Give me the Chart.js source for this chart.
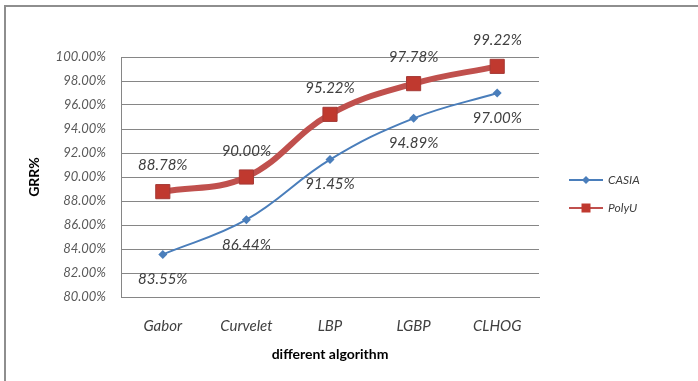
<!DOCTYPE html>
<html>
<head>
<meta charset="utf-8">
<script src="https://cdn.jsdelivr.net/npm/chart.js@4/dist/chart.umd.min.js"></script>
<style>
  html, body { margin: 0; padding: 0; background: #fff; }
  #wrap { position: relative; width: 698px; height: 381px; overflow: hidden; }
  #frame { position: absolute; left: 4px; top: 5px; width: 720px; height: 400px;
           border-left: 2px solid #8e8e8e; border-top: 2px solid #8e8e8e; box-sizing: border-box; }
  canvas { position: absolute; left: 0; top: 0; }
</style>
</head>
<body>
<div id="wrap">
  <div id="frame"></div>
  <canvas id="c" width="698" height="381"></canvas>
</div>
<script>
// Recognition rates (%) of each algorithm on the two databases
const algorithms = ['Gabor', 'Curvelet', 'LBP', 'LGBP', 'CLHOG'];
const casia = [83.55, 86.44, 91.45, 94.89, 97.00];
const polyu = [88.78, 90.00, 95.22, 97.78, 99.22];
const yMin = 80, yMax = 100, yStep = 2;

const FONT = 'Lato, "Liberation Sans", Arial, sans-serif';
const BLUE = '#4a7ebb';
const RED = '#c0504d';

// value labels: PolyU above its points, CASIA below
const valueLabels = {
  id: 'valueLabels',
  afterDatasetsDraw(chart) {
    const ctx = chart.ctx;
    ctx.save();
    ctx.font = 'italic 15px ' + FONT;
    ctx.fillStyle = '#404040';
    ctx.textAlign = 'center';
    ctx.textBaseline = 'middle';
    chart.data.datasets.forEach((ds, i) => {
      const meta = chart.getDatasetMeta(i);
      const dy = ds.labelSide === 'above' ? -26 : 25;
      meta.data.forEach((pt, j) => {
        ctx.fillText(ds.data[j].toFixed(2) + '%', pt.x, pt.y + dy);
      });
    });
    ctx.restore();
  }
};

// legend to the right of the plot
const sideLegend = {
  id: 'sideLegend',
  afterDraw(chart) {
    const ctx = chart.ctx;
    const x0 = chart.chartArea.right + 30;
    const ys = [chart.chartArea.top + 123, chart.chartArea.top + 151];
    ctx.save();
    chart.data.datasets.forEach((ds, i) => {
      const y = ys[i];
      ctx.strokeStyle = ds.borderColor;
      ctx.lineWidth = 2;
      ctx.beginPath();
      ctx.moveTo(x0, y);
      ctx.lineTo(x0 + 34, y);
      ctx.stroke();
      ctx.fillStyle = ds.pointBackgroundColor;
      ctx.beginPath();
      if (ds.pointStyle === 'rect') {
        ctx.rect(x0 + 17 - 4.5, y - 4.5, 9, 9);
      } else {
        ctx.moveTo(x0 + 17, y - 4);
        ctx.lineTo(x0 + 21, y);
        ctx.lineTo(x0 + 17, y + 4);
        ctx.lineTo(x0 + 13, y);
        ctx.closePath();
      }
      ctx.fill();
      ctx.font = 'italic 12px ' + FONT;
      ctx.fillStyle = '#404040';
      ctx.textAlign = 'left';
      ctx.textBaseline = 'middle';
      ctx.fillText(ds.label, x0 + 39, y);
    });
    ctx.restore();
  }
};

new Chart(document.getElementById('c'), {
  type: 'line',
  data: {
    labels: algorithms,
    datasets: [
      {
        label: 'CASIA',
        data: casia,
        borderColor: BLUE,
        backgroundColor: BLUE,
        pointBackgroundColor: BLUE,
        pointBorderColor: BLUE,
        borderWidth: 2,
        pointStyle: 'rectRot',
        pointRadius: 4.5,
        pointBorderWidth: 0,
        tension: 0.4,
        labelSide: 'below'
      },
      {
        label: 'PolyU',
        data: polyu,
        borderColor: RED,
        backgroundColor: RED,
        pointBackgroundColor: '#c0392f',
        pointBorderColor: '#a53a36',
        borderWidth: 6,
        pointStyle: 'rect',
        pointRadius: 10,
        pointBorderWidth: 1,
        tension: 0.4,
        labelSide: 'above'
      }
    ]
  },
  options: {
    responsive: false,
    animation: false,
    layout: { padding: { left: 0, right: 159, top: 57, bottom: 0 } },
    plugins: { legend: { display: false }, tooltip: { enabled: false } },
    scales: {
      x: {
        offset: true,
        grid: { display: false, drawTicks: false },
        border: { display: true, color: '#868686', width: 1 },
        ticks: { color: '#404040', font: { family: FONT, size: 15, style: 'italic' }, padding: 20 },
        title: { display: true, text: 'different algorithm', color: '#000',
                 font: { family: FONT, size: 14, weight: 'bold' }, padding: { top: 0, bottom: 18 } },
        afterFit(scale) { scale.height = 84; }
      },
      y: {
        min: yMin, max: yMax,
        grid: { color: '#868686', lineWidth: 1, drawTicks: false },
        border: { display: true, color: '#868686', width: 1 },
        ticks: { stepSize: yStep, color: '#595959', padding: 15,
                 font: { family: FONT, size: 13, style: 'italic' },
                 callback: v => v.toFixed(2) + '%' },
        title: { display: true, text: 'GRR%', color: '#000',
                 font: { family: FONT, size: 14, weight: 'bold' }, padding: { top: 26, bottom: 0 } },
        afterFit(scale) { scale.width = 121; }
      }
    }
  },
  plugins: [valueLabels, sideLegend]
});
</script>
</body>
</html>
